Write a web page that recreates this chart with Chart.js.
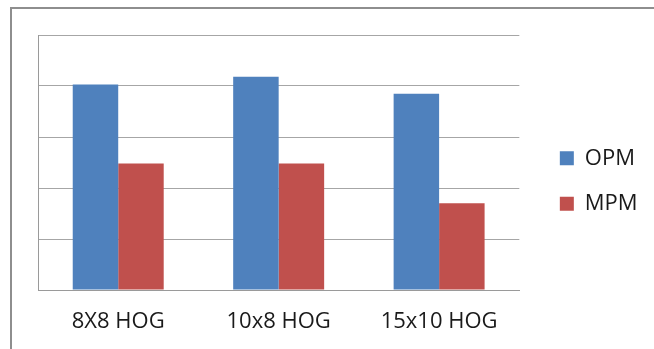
<!DOCTYPE html>
<html>
<head>
<meta charset="utf-8">
<script src="https://cdn.jsdelivr.net/npm/chart.js@4"></script>
<style>
  html,body{margin:0;padding:0;background:#fff;}
  #wrap{position:relative;width:654px;height:349px;overflow:hidden;}
  #frame{position:absolute;left:10px;top:7px;width:700px;height:400px;border:2px solid #8e8e8e;box-sizing:border-box;}
  canvas{position:absolute;left:0;top:0;}
</style>
</head>
<body>
<div id="wrap">
  <div id="frame"></div>
  <canvas id="c" width="654" height="349"></canvas>
</div>
<script>
const categories=['8X8 HOG','10x8 HOG','15x10 HOG'];
const opm=[4.03,4.18,3.85];
const mpm=[2.48,2.48,1.70];
const yMax=5;

Chart.defaults.font.family='"Open Sans", sans-serif';
Chart.defaults.color='#1a1a1a';

// legend sits a little above the middle of the plot in the original
const nudgeLegend={
  id:'nudgeLegend',
  afterLayout(chart){
    const l=chart.legend;
    l.top-=11;l.bottom-=11;
  }
};

new Chart(document.getElementById('c'),{
  type:'bar',
  data:{
    labels:categories,
    datasets:[
      {label:'OPM',data:opm,backgroundColor:'#4f81bd',categoryPercentage:0.567,barPercentage:1},
      {label:'MPM',data:mpm,backgroundColor:'#c0504d',categoryPercentage:0.567,barPercentage:1}
    ]
  },
  options:{
    responsive:false,
    animation:false,
    layout:{padding:{left:38,top:35,right:18,bottom:0}},
    plugins:{
      tooltip:{enabled:false},
      legend:{
        position:'right',
        labels:{boxWidth:14,boxHeight:14,padding:23.5,font:{size:22},color:'#1a1a1a'}
      }
    },
    scales:{
      x:{
        grid:{display:false,drawTicks:false},
        border:{display:true,color:'#9a9a9a',width:1},
        ticks:{font:{size:22},padding:19,color:'#1a1a1a'},
        afterFit:s=>{s.height=59;}
      },
      y:{
        min:0,max:yMax,
        ticks:{display:false,stepSize:1},
        grid:{color:'#a6a6a6',lineWidth:1,drawTicks:false},
        border:{display:true,color:'#9a9a9a',width:1},
        afterFit:s=>{s.width=0;}
      },
      gap:{
        type:'linear',position:'right',display:true,
        grid:{display:false,drawTicks:false},
        border:{display:false},
        ticks:{display:false},
        afterFit:s=>{s.width=17;}
      }
    }
  },
  plugins:[nudgeLegend]
});
</script>
</body>
</html>
